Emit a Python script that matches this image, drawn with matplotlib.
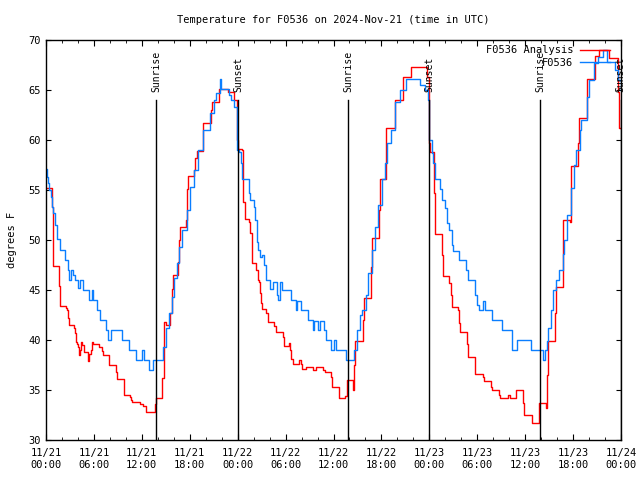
import matplotlib
matplotlib.use("Agg")
import matplotlib.pyplot as plt
import matplotlib.dates as mdates
import pandas as pd
import numpy as np

plt.rcParams['font.family'] = ['DejaVu Sans Mono']
plt.rcParams['font.size'] = 7

title = "Temperature for F0536 on 2024-Nov-21 (time in UTC)"
start = "2024-11-21 00:00"

# Analysis series (hours since start, deg F)
analysis_hours = [0, 0.71, 0.83, 0.92, 1.67, 1.75, 2.55, 2.67, 2.75, 2.84, 3.5, 3.63, 3.75, 3.9, 4.0,
                  4.17, 4.25, 4.4, 4.55, 4.76, 5.3, 5.42, 5.59, 5.7, 5.92, 6.67, 6.97, 7.18, 7.84, 8.76,
                  8.84, 9.72, 9.8, 10.5, 10.6, 10.76, 11.76, 12.2, 12.52, 13.6, 13.77, 14.58, 14.75, 15.0,
                  15.55, 15.73, 15.85, 16.5, 16.69, 16.77, 17.52, 17.6, 17.69, 17.81, 18.52, 18.64, 18.86,
                  19.6, 19.7, 20.6, 20.8, 21.6, 22.8, 23.6, 23.9, 24.1, 24.6, 24.7, 24.9, 25.4, 25.6, 25.8,
                  26.3, 26.5, 26.65, 26.75, 26.9, 27.1, 27.6, 27.8, 28.5, 28.8, 29.7, 29.8, 30.4, 30.5,
                  30.7, 30.9, 31.7, 31.9, 32.1, 32.6, 33.4, 33.8, 34.7, 34.9, 35.7, 35.8, 36.7, 37.5,
                  37.7, 38.45, 38.6, 38.7, 39.7, 39.8, 40.7, 40.8, 41.7, 41.8, 42.6, 43.7, 44.7, 45.7,
                  47.7, 47.9, 48.0, 48.05, 48.6, 48.7, 49.6, 49.7, 50.5, 50.7, 50.8, 51.6, 51.7, 51.8,
                  52.7, 52.8, 53.7, 54.7, 54.8, 55.7, 55.8, 56.7, 56.8, 57.8, 58.05, 58.8, 59.7, 59.8,
                  60.8, 61.7, 62.6, 62.7, 62.8, 63.7, 63.8, 64.7, 65.6, 65.7, 65.8, 66.6, 66.7, 67.8,
                  68.8, 69.2, 70.5, 71.6, 71.7, 72.0]
analysis_temp = [55.2, 53.3, 49.3, 47.4, 45.4, 43.4, 43.2, 43.0, 42.2, 41.5, 41.2, 40.7, 39.8, 39.6, 39.3,
                 38.5, 39.0, 39.8, 39.5, 38.8, 37.9, 38.6, 39.0, 39.8, 39.6, 39.3, 38.9, 38.5, 37.5, 36.8,
                 36.1, 35.3, 34.5, 34.3, 34.0, 33.8, 33.6, 33.4, 32.8, 33.6, 34.2, 36.2, 41.8, 41.5,
                 42.7, 45.1, 46.5, 47.8, 50.0, 51.3, 52.0, 53.0, 55.1, 56.4, 57.0, 58.2, 58.9,
                 60.3, 61.7, 63.0, 63.8, 65.1, 64.8, 64.0, 60.0, 59.1, 59.0, 53.8, 52.1, 51.8, 50.7, 47.7,
                 47.0, 46.0, 45.8, 44.7, 43.7, 43.1, 42.7, 41.8, 41.4, 40.8, 40.3, 39.4, 39.7, 39.0,
                 38.1, 37.6, 38.0, 37.6, 37.1, 37.3, 37.0, 37.3, 37.0, 36.8, 36.3, 35.3, 34.2, 34.4,
                 36.0, 35.0, 37.5, 39.9, 42.0, 44.2, 47.3, 50.2, 53.0, 56.1, 61.2, 64.0, 66.3, 67.3,
                 66.3, 62.0, 59.7, 58.8, 54.7, 50.6, 48.5, 46.4, 45.7, 44.5, 43.3, 43.0, 41.7, 40.8,
                 39.6, 38.3, 36.6, 36.3, 35.9, 35.3, 35.0, 34.5, 34.2, 34.5, 34.2, 35.0, 33.7, 32.5,
                 31.7, 33.7, 33.2, 36.5, 39.9, 42.7, 45.3, 52.0, 51.8, 54.7, 57.4, 59.7, 62.2, 66.1,
                 68.4, 69.0, 68.2, 64.8, 61.2, 61.2]

# Observed series (hours since start, deg F)
obs_hours = [0, 0.15, 0.29, 0.42, 0.58, 0.75, 0.92, 1.17, 1.34, 1.42, 1.75, 2.38, 2.8, 2.92, 3.13, 3.42,
             3.63, 4.05, 4.26, 4.59, 5.42, 5.72, 5.92, 6.42, 6.76, 7.51, 7.8, 8.14, 9.47, 10.43, 11.22,
             11.97, 12.3, 12.93, 13.43, 14.69, 15.02, 15.44, 15.73, 16.06, 16.35, 16.69, 16.98, 17.6,
             18.02, 18.52, 19.06, 19.69, 20.5, 21.0, 21.3, 21.75, 21.9, 22.9, 23.2, 23.6, 23.9, 24.2,
             24.4, 24.6, 25.4, 25.6, 26.1, 26.2, 26.4, 26.5, 26.8, 27.0, 27.3, 27.5, 28.1, 28.4, 28.9,
             29.0, 29.3, 29.6, 30.7, 31.3, 31.4, 31.9, 32.8, 33.4, 33.6, 34.0, 34.3, 34.8, 35.1, 35.7,
             36.0, 36.3, 37.6, 38.6, 39.0, 39.3, 39.6, 40.1, 40.3, 40.8, 41.2, 41.6, 42.1, 42.4, 42.7,
             43.2, 43.7, 44.3, 45.1, 46.8, 47.4, 47.8, 48.0, 48.3, 48.5, 48.7, 49.3, 49.6, 49.9, 50.2,
             50.5, 50.9, 51.0, 51.7, 52.6, 52.8, 53.7, 54.0, 54.2, 54.7, 55.0, 55.8, 57.1, 58.3, 59.0,
             60.7, 62.2, 62.5, 62.7, 62.9, 63.2, 63.5, 63.9, 64.2, 64.7, 64.8, 65.3, 65.7, 66.1, 66.4,
             66.9, 67.0, 67.7, 68.0, 68.6, 69.1, 69.7, 70.2, 71.2, 71.6, 72.0]
obs_temp = [57.1, 56.3, 55.7, 55.0, 54.3, 53.3, 52.7, 51.5, 50.5, 50.1, 49.0, 48.0, 47.0, 46.0, 47.0, 46.5,
            46.0, 45.2, 46.0, 45.0, 44.0, 45.0, 44.0, 43.0, 42.0, 41.0, 40.0, 41.0, 40.0, 39.0, 38.0,
            39.0, 38.0, 37.0, 38.0, 39.3, 41.2, 42.7, 44.3, 46.2, 47.7, 49.3, 51.0, 53.0,
            55.3, 57.0, 59.0, 61.0, 62.7, 64.0, 64.7, 66.1, 65.1, 64.5, 64.0, 63.3, 59.0, 58.8,
            57.7, 56.1, 54.7, 54.0, 53.3, 52.0, 49.8, 49.0, 48.3, 48.5, 47.5, 46.0, 45.1, 45.8, 44.5,
            44.0, 45.8, 45.0, 44.0, 43.0, 43.9, 43.0, 42.0, 41.0, 41.9, 41.0, 41.9, 41.0, 40.0, 39.0,
            40.0, 39.0, 38.0, 39.0, 41.0, 42.5, 43.0, 44.5, 46.7, 49.0, 51.3, 53.5, 56.1, 57.7, 59.7,
            61.0, 63.8, 65.0, 66.1, 65.5, 65.0, 64.0, 60.0, 58.7, 57.7, 56.1, 55.1, 54.0, 53.2, 51.7,
            51.0, 49.5, 48.9, 48.0, 47.0, 46.0, 44.5, 43.5, 43.0, 43.9, 43.0, 42.0, 41.0, 39.0, 40.0,
            39.0, 38.0, 39.0, 39.9, 41.2, 43.0, 45.0, 46.0, 47.0, 48.6, 50.0, 52.5, 55.2, 57.5, 59.0,
            61.0, 62.0, 64.3, 66.0, 67.7, 68.3, 69.0, 67.8, 67.0, 66.0, 65.0]

sunrise_hours = [13.8, 37.84, 61.87]
sunset_hours = [24.03, 47.97, 71.95]

base = pd.Timestamp(start)
def to_dt(h):
    return base + pd.to_timedelta(np.asarray(h), unit='h')

fig = plt.figure(figsize=(6.4, 4.8), dpi=100)
ax = fig.add_axes([46/640, 40/480, (621-46)/640, 400/480])

ax.plot(to_dt(analysis_hours), analysis_temp, drawstyle='steps-post', color='#ff0000', lw=1.0,
        label='F0536 Analysis')
ax.plot(to_dt(obs_hours), obs_temp, drawstyle='steps-post', color='#0a7eff', lw=1.0,
        label='F0536')

for h in sunrise_hours:
    d = to_dt([h])[0]
    ax.plot([d, d], [30, 64.0], color='black', lw=1.0)
    ax.text(d, 64.8, 'Sunrise', rotation=90, ha='center', va='bottom', fontsize=7, clip_on=False)
for h in sunset_hours:
    d = to_dt([h])[0]
    ax.plot([d, d], [30, 64.0], color='black', lw=1.0)
    ax.text(d, 64.8, 'Sunset', rotation=90, ha='center', va='bottom', fontsize=7, clip_on=False)

ax.set_xlim(to_dt([0])[0], to_dt([72])[0])
ax.set_ylim(30, 70)
ax.set_yticks(np.arange(30, 71, 5))
ax.xaxis.set_major_locator(mdates.HourLocator(byhour=[0, 6, 12, 18]))
ax.xaxis.set_minor_locator(mdates.HourLocator(byhour=range(0, 24, 2)))
ax.xaxis.set_major_formatter(mdates.DateFormatter('%m/%d\n%H:%M'))
ax.tick_params(axis='both', which='both', direction='in', top=True, right=True, labelsize=7.5)
ax.tick_params(axis='x', which='major', length=4, pad=6)
ax.tick_params(axis='x', which='minor', length=2)
ax.tick_params(axis='y', which='major', length=3.5, pad=4)
for s in ax.spines.values():
    s.set_linewidth(1.0)

ax.set_ylabel('degrees F', fontsize=7.5, labelpad=8)
ax.set_title(title, fontsize=7.5, pad=12)

leg = ax.legend(loc='upper right', bbox_to_anchor=(0.988, 0.997), frameon=False, fontsize=7.5,
                markerfirst=False, handlelength=2.9, handletextpad=0.6, labelspacing=0.25,
                borderaxespad=0.0)

fig.savefig('out.png', dpi=100)
